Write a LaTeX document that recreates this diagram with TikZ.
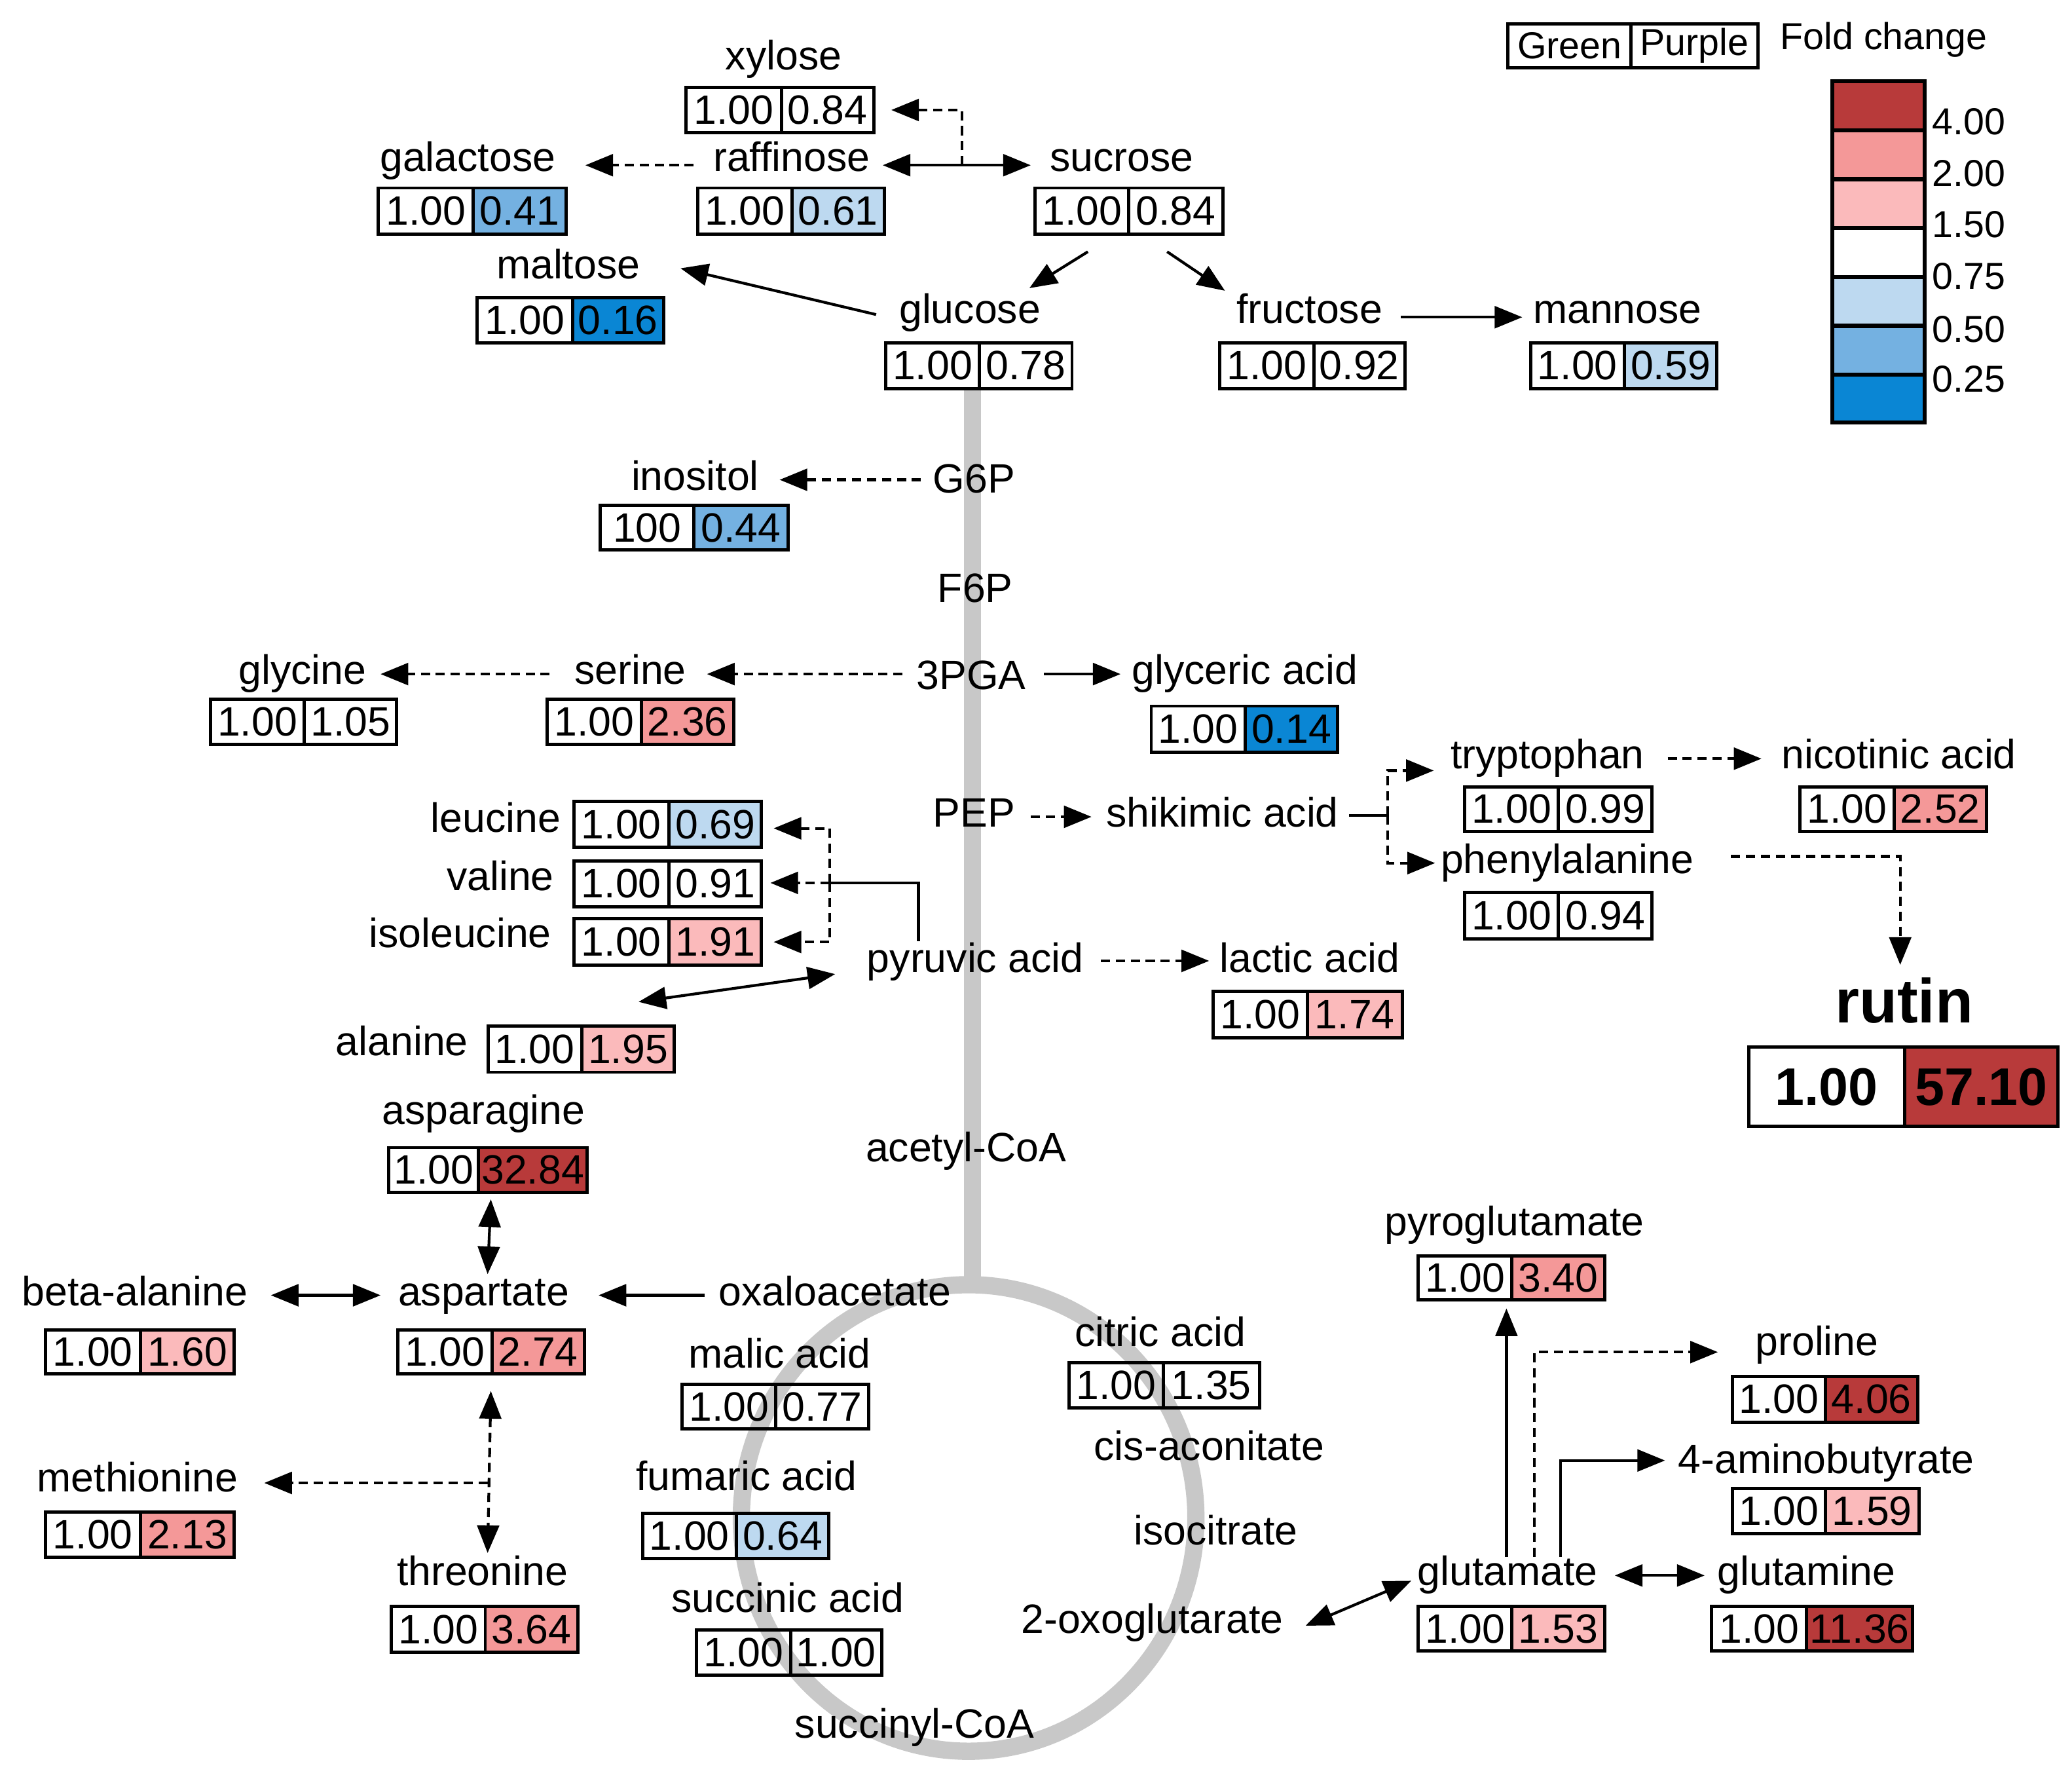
\documentclass[tikz,border=0pt]{standalone}
\usepackage{fontspec}
\setmainfont{Liberation Sans}
\usetikzlibrary{arrows.meta,calc}
\newlength{\pxu}\setlength{\pxu}{0.57415pt}
\newcommand{\labfont}{\fontsize{17.8}{20}\selectfont}
\newcommand{\legfont}{\fontsize{16.3}{19}\selectfont}
\definecolor{cdred}{RGB}{184,58,58}
\definecolor{csalmon}{RGB}{244,152,152}
\definecolor{cpink}{RGB}{251,186,187}
\definecolor{clblue}{RGB}{189,217,240}
\definecolor{cmblue}{RGB}{116,177,225}
\definecolor{cblue}{RGB}{10,134,212}
\definecolor{cgray}{RGB}{200,200,200}
\tikzset{
  lab/.style={font=\labfont, inner sep=2pt, text height=12.6pt, text depth=3.7pt},
  cell/.style={draw, line width=1.4pt, inner sep=0pt, font=\labfont},
  ln/.style={line width=1.2pt},
  arr/.style={line width=1.2pt, -{Triangle[length=12pt,width=9.5pt]}},
  arrb/.style={line width=1.2pt, {Triangle[length=12pt,width=9.5pt]}-{Triangle[length=12pt,width=9.5pt]}},
  dsh/.style={dash pattern=on 4pt off 2.5pt},
  legcell/.style={draw, line width=1.8pt, inner sep=0pt, minimum width=70*0.57415pt, anchor=north west},
}
% name, xl, xs, xr, yt, yb, v1, v2, fill
\newcommand{\valbox}[9]{%
  \pgfmathsetmacro\wa{(#3-#2)*0.57415}%
  \pgfmathsetmacro\wb{(#4-#3)*0.57415}%
  \pgfmathsetmacro\hh{(#6-#5)*0.57415}%
  \node[cell, minimum width=\wa pt, minimum height=\hh pt, anchor=north west] (#1-a) at (#2,#5) {#7};
  \node[cell, fill=#9, minimum width=\wb pt, minimum height=\hh pt, anchor=north west] (#1-b) at (#3,#5) {#8};
}
\begin{document}
\begin{tikzpicture}[x=0.020179cm,y=-0.020179cm]
\useasboundingbox (0,0) rectangle (1568,1344);

% gray pathway backbone
\draw[cgray, line width=7.5pt] (736,293) -- (736,972);
\draw[cgray, line width=7.5pt] (733,1148.5) ellipse [x radius=172, y radius=176.5];

% legend
\node[cell, font=\legfont, minimum width=93*0.57415pt, minimum height=33*0.57415pt, anchor=north west] (lgG) at (1140,17) {Green};
\node[cell, font=\legfont, minimum width=96*0.57415pt, minimum height=33*0.57415pt, anchor=north west] (lgP) at (1233,17) {Purple};
\node[font=\legfont, anchor=west, inner sep=0pt] (lgT) at (1347,30) {Fold change};
\node[legcell, fill=cdred,   minimum height=37*0.57415pt] (lc1) at (1385,60) {};
\node[legcell, fill=csalmon, minimum height=37*0.57415pt] (lc2) at (1385,97) {};
\node[legcell, fill=cpink,   minimum height=37*0.57415pt] (lc3) at (1385,134) {};
\node[legcell, fill=white,   minimum height=37*0.57415pt] (lc4) at (1385,171) {};
\node[legcell, fill=clblue,  minimum height=37*0.57415pt] (lc5) at (1385,208) {};
\node[legcell, fill=cmblue,  minimum height=37*0.57415pt] (lc6) at (1385,245) {};
\node[legcell, fill=cblue,   minimum height=36*0.57415pt] (lc7) at (1385,282) {};
\node[font=\legfont, anchor=west, inner sep=0pt] (ll1) at (1462,92) {4.00};
\node[font=\legfont, anchor=west, inner sep=0pt] (ll2) at (1462,131) {2.00};
\node[font=\legfont, anchor=west, inner sep=0pt] (ll3) at (1462,170) {1.50};
\node[font=\legfont, anchor=west, inner sep=0pt] (ll4) at (1462,209) {0.75};
\node[font=\legfont, anchor=west, inner sep=0pt] (ll5) at (1462,249) {0.50};
\node[font=\legfont, anchor=west, inner sep=0pt] (ll6) at (1462,287) {0.25};

% labels
\node[lab] (xyl) at (593,45) {xylose};
\node[lab] (gal) at (354,122) {galactose};
\node[lab] (raf) at (599,122) {raffinose};
\node[lab] (suc) at (849,122) {sucrose};
\node[lab] (mal) at (430,203) {maltose};
\node[lab] (glu) at (734,237) {glucose};
\node[lab] (fru) at (991,237) {fructose};
\node[lab] (man) at (1224,237) {mannose};
\node[lab] (ino) at (526,363) {inositol};
\node[lab] (g6p) at (737,365) {G6P};
\node[lab] (f6p) at (738,448) {F6P};
\node[lab] (pga) at (735,514) {3PGA};
\node[lab] (gly) at (229,510) {glycine};
\node[lab] (ser) at (477,510) {serine};
\node[lab] (gla) at (942,510) {glyceric acid};
\node[lab] (trp) at (1171,574) {tryptophan};
\node[lab] (nic) at (1437,574) {nicotinic acid};
\node[lab] (pep) at (737,618) {PEP};
\node[lab] (shk) at (925,618) {shikimic acid};
\node[lab, anchor=east] (leu) at (428,622) {leucine};
\node[lab, anchor=east] (val) at (423,666) {valine};
\node[lab, anchor=east] (ile) at (421,709) {isoleucine};
\node[lab] (phe) at (1186,653) {phenylalanine};
\node[lab] (pyr) at (738,728) {pyruvic acid};
\node[lab] (lac) at (991,728) {lactic acid};
\node[lab, anchor=east] (ala) at (358,791) {alanine};
\node[font=\bfseries\fontsize{27}{30}\selectfont, inner sep=2pt] (rut) at (1441,757) {rutin};
\node[lab] (asn) at (366,843) {asparagine};
\node[lab] (aco) at (731,871) {acetyl-CoA};
\node[lab] (pyg) at (1146,927) {pyroglutamate};
\node[lab] (bal) at (102,980) {beta-alanine};
\node[lab] (asp) at (366,980) {aspartate};
\node[lab] (oxa) at (632,980) {oxaloacetate};
\node[lab] (cit) at (878,1011) {citric acid};
\node[lab] (mlc) at (590,1027) {malic acid};
\node[lab] (pro) at (1375,1018) {proline};
\node[lab] (cis) at (915,1097) {cis-aconitate};
\node[lab] (gab) at (1382,1107) {4-aminobutyrate};
\node[lab] (met) at (104,1121) {methionine};
\node[lab] (fum) at (565,1120) {fumaric acid};
\node[lab] (ico) at (920,1161) {isocitrate};
\node[lab] (thr) at (365,1192) {threonine};
\node[lab] (glt) at (1141,1192) {glutamate};
\node[lab] (gln) at (1367,1192) {glutamine};
\node[lab] (suca) at (596,1212) {succinic acid};
\node[lab] (oxg) at (872,1228) {2-oxoglutarate};
\node[lab] (scoa) at (692,1307) {succinyl-CoA};

% value boxes
\valbox{xylv}{518}{590}{660}{65}{99}{1.00}{0.84}{none}
\valbox{galv}{285}{357}{427}{141}{176}{1.00}{0.41}{cmblue}
\valbox{rafv}{527}{598}{668}{141}{176}{1.00}{0.61}{clblue}
\valbox{sucv}{782}{853}{924}{141}{176}{1.00}{0.84}{none}
\valbox{malv}{360}{432}{501}{224}{258}{1.00}{0.16}{cblue}
\valbox{gluv}{669}{740}{810}{258}{293}{1.00}{0.78}{none}
\valbox{fruv}{922}{993}{1062}{258}{293}{1.00}{0.92}{none}
\valbox{manv}{1157}{1228}{1298}{258}{293}{1.00}{0.59}{clblue}
\valbox{inov}{453}{524}{595}{381}{415}{100}{0.44}{cmblue}
\valbox{glyv}{158}{229}{299}{528}{562}{1.00}{1.05}{none}
\valbox{serv}{413}{484}{554}{528}{562}{1.00}{2.36}{csalmon}
\valbox{glav}{870}{941}{1011}{533}{568}{1.00}{0.14}{cblue}
\valbox{trpv}{1107}{1178}{1249}{594}{628}{1.00}{0.99}{none}
\valbox{nicv}{1361}{1432}{1502}{594}{628}{1.00}{2.52}{csalmon}
\valbox{phev}{1107}{1178}{1249}{674}{709}{1.00}{0.94}{none}
\valbox{leuv}{433}{505}{575}{605}{640}{1.00}{0.69}{clblue}
\valbox{valv}{433}{505}{575}{650}{685}{1.00}{0.91}{none}
\valbox{ilev}{433}{505}{575}{694}{729}{1.00}{1.91}{cpink}
\valbox{lacv}{917}{988}{1060}{749}{784}{1.00}{1.74}{cpink}
\valbox{alav}{368}{439}{509}{775}{810}{1.00}{1.95}{cpink}
\valbox{asnv}{293}{361}{443}{867}{901}{1.00}{32.84}{cdred}
\valbox{pygv}{1072}{1143}{1213}{949}{982}{1.00}{3.40}{csalmon}
\valbox{balv}{33}{105}{176}{1005}{1038}{1.00}{1.60}{cpink}
\valbox{aspv}{300}{371}{441}{1005}{1038}{1.00}{2.74}{csalmon}
\valbox{citv}{808}{879}{952}{1030}{1064}{1.00}{1.35}{none}
\valbox{mlcv}{515}{586}{656}{1046}{1080}{1.00}{0.77}{none}
\valbox{prov}{1310}{1380}{1450}{1040}{1075}{1.00}{4.06}{cdred}
\valbox{gabv}{1310}{1380}{1451}{1125}{1159}{1.00}{1.59}{cpink}
\valbox{metv}{33}{105}{176}{1143}{1177}{1.00}{2.13}{csalmon}
\valbox{fumv}{485}{556}{626}{1144}{1178}{1.00}{0.64}{clblue}
\valbox{thrv}{295}{366}{436}{1214}{1249}{1.00}{3.64}{csalmon}
\valbox{gltv}{1072}{1143}{1213}{1214}{1248}{1.00}{1.53}{cpink}
\valbox{glnv}{1294}{1366}{1446}{1214}{1248}{1.00}{11.36}{cdred}
\valbox{sucav}{526}{597}{666}{1232}{1266}{1.00}{1.00}{none}
% rutin box
\node[cell, font=\bfseries\fontsize{23}{26}\selectfont, minimum width=118*0.57415pt, minimum height=60*0.57415pt, anchor=north west] (rutv-a) at (1322,791) {1.00};
\node[cell, fill=cdred, font=\bfseries\fontsize{23}{26}\selectfont, minimum width=116*0.57415pt, minimum height=60*0.57415pt, anchor=north west] (rutv-b) at (1440,791) {57.10};

% connectors
\draw[arrb] ($(raf)+(69,3)$) -- ($(suc)+(-69,3)$);
\draw[arr,dsh] ($(raf)+(129,3)$) |- ($(xylv-b.east)+(12,0)$);
\draw[arr,dsh] ($(raf)+(-74,3)$) -- ($(gal)+(89,3)$);
\draw[arr] ($(sucv-a.south)+(4.5,12)$) -- ($(glu)+(45,-19)$);
\draw[arr] ($(sucv-b.south)+(-6.5,12)$) -- ($(fru)+(-64,-17)$);
\draw[arr] ($(glu)+(-71,1)$) -- ($(mal)+(85,0)$);
\draw[arr] ($(fru)+(69,3)$) -- ($(man)+(-72,3)$);
\draw[arr,dsh] ($(g6p)+(-40,-2)$) -- ($(ino)+(64,0)$);
\draw[arr,dsh] ($(pga)+(-52,-4)$) -- ($(ser)+(58,0)$);
\draw[arr,dsh] ($(ser)+(-61,0)$) -- ($(gly)+(59,0)$);
\draw[arr] ($(pga)+(55,-4)$) -- ($(gla)+(-94,0)$);
\draw[arr,dsh] ($(pep)+(43,0)$) -- ($(shk)+(-99,0)$);
\draw[ln] ($(shk)+(96,-1)$) -- ($(shk)+(125,-1)$);
\draw[arr,dsh] ($(shk)+(125,-1)$) |- ($(trp)+(-86,9)$);
\draw[arr,dsh] ($(shk)+(125,-1)$) |- ($(phe)+(-100,0)$);
\draw[arr,dsh] ($(trp)+(91,0)$) -- ($(nic)+(-104,0)$);
\draw[arr,dsh] ($(phe)+(124,-5)$) -| ($(rut)+(-3,-27)$);
\draw[arr,dsh] ($(pyr)+(95,-1)$) -- ($(lac)+(-76,-1)$);
\draw[ln] ($(pyr)+(-43,-16)$) |- ($(pyr)+(-110,-60)$);
\draw[arr,dsh] ($(pyr)+(-110,-60)$) |- ($(leuv-b.east)+(8,3)$);
\draw[arr,dsh] ($(pyr)+(-110,-60)$) -- ($(pyr)+(-155,-60)$);
\draw[arr,dsh] ($(pyr)+(-110,-60)$) |- ($(ilev-b.east)+(8,0)$);
\draw[arrb] ($(pyr)+(-106,9)$) -- ($(alav-b.north)+(8,-17)$);
\draw[arrb] ($(asnv-a.south east)+(8,4)$) -- ($(asp)+(3,-16)$);
\draw[arrb] ($(bal)+(103,0)$) -- ($(asp)+(-78,0)$);
\draw[arr] ($(oxa)+(-99,0)$) -- ($(asp)+(87,0)$);
\draw[arrb,dsh] ($(aspv-a.south east)+(-2,12)$) -- ($(thr)+(4,-17)$);
\draw[arr,dsh] ($(asp)+(3,142)$) -- ($(met)+(96,1)$);
\draw[arrb] ($(oxg)+(116,2)$) -- ($(glt)+(-73,4)$);
\draw[arrb] ($(glt)+(81,0)$) -- ($(gln)+(-77,0)$);
\draw[arr] ($(glt)+(-1,-14)$) -- ++(0,-188);
\draw[arr,dsh] ($(glt)+(20,-14)$) |- ($(pro)+(-75,5)$);
\draw[arr] ($(glt)+(40,-14)$) |- ($(gab)+(-122,-2)$);
\end{tikzpicture}
\end{document}
